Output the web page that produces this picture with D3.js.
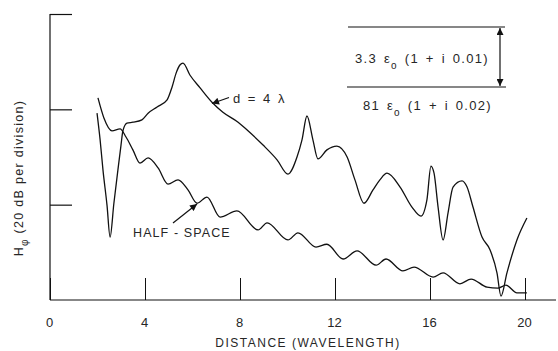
<!DOCTYPE html>
<html>
<head>
<meta charset="utf-8">
<script src="https://cdn.jsdelivr.net/npm/d3@7"></script>
<style>
  body { margin: 0; background: #fff; }
  svg text { font-family: "Liberation Sans", Arial, sans-serif; fill: #262626; }
</style>
</head>
<body>
<svg id="chart" width="558" height="351"></svg>
<script>
// distance in wavelengths, field in dB (relative, 20 dB per division)
var xTickValues = [0, 4, 8, 12, 16, 20]
var yTickValues = [20, 40, 60]

var layerDist = [1.98, 2.11, 2.23, 2.40, 2.53, 2.69, 2.86, 2.99, 3.07, 3.24, 3.49, 3.87, 4.13, 4.51, 4.93, 5.14, 5.31, 5.47, 5.60,
  5.89, 6.32, 6.82, 7.28, 7.92, 8.29, 8.97, 9.56, 10.02, 10.40, 10.61, 10.82, 11.07, 11.28, 11.66, 12.08, 12.51, 12.84, 13.22,
  13.60, 13.89, 14.19, 14.74, 15.24, 15.62, 15.87, 16.04, 16.17, 16.34, 16.55, 16.76, 16.97, 17.35, 17.56, 17.81, 18.19, 18.53,
  18.82, 18.99, 19.24, 19.66, 20.08]
var layerDb = [39.2, 33.6, 27.3, 19.9, 13.2, 20.3, 27.3, 32.5, 35.5, 37.1, 37.3, 37.8, 39.2, 40.5, 42.0, 44.7, 47.6, 49.3, 49.7,
  47.2, 44.5, 41.5, 39.4, 37.3, 35.7, 32.5, 29.4, 26.4, 30.0, 33.6, 38.6, 33.6, 29.6, 31.5, 32.3, 30.0, 25.2, 20.3,
  23.1, 25.2, 26.6, 23.7, 19.5, 17.6, 21.0, 28.1, 26.6, 19.5, 12.6, 18.3, 23.7, 25.0, 23.7, 19.5, 13.2, 10.5,
  5.7, 0.8, 5.7, 12.6, 17.2]

var halfDist = [2.02, 2.27, 2.61, 2.95, 3.20, 3.49, 3.79, 4.13, 4.55, 4.97, 5.39, 5.81, 6.19, 6.61, 7.16, 7.87, 8.76, 9.14,
  10.02, 10.44, 11.20, 11.66, 12.34, 12.93, 13.73, 14.15, 14.86, 15.33, 16.13, 16.55, 17.26, 17.73, 18.40, 18.86, 19.20, 19.66, 20.08]
var halfDb = [42.4, 38.2, 35.5, 35.9, 34.2, 31.5, 28.7, 29.8, 27.7, 24.3, 25.2, 23.1, 20.3, 21.6, 17.4, 18.7, 14.7, 16.2,
  12.6, 14.1, 11.1, 11.7, 8.6, 10.3, 7.3, 8.6, 6.1, 6.9, 4.8, 5.7, 3.4, 4.4, 2.7, 2.5, 3.1, 1.5, 1.5]

var svg = d3.select('#chart')

var x = d3.scaleLinear().domain([0, 20]).range([50, 525])
var y = d3.scaleLinear().domain([0, 60]).range([300, 14])

/** arrow marker */
svg.append('defs').append('marker').attr('id', 'tri')
  .attr('viewBox', '0 0 10 10').attr('refX', 10).attr('refY', 5)
  .attr('markerWidth', 9).attr('markerHeight', 7).attr('markerUnits', 'userSpaceOnUse')
  .attr('orient', 'auto-start-reverse')
  .append('path').attr('d', 'M0,0L10,5L0,10z').attr('fill', '#111')

/** x axis */
var xAxis = svg.append('g').attr('transform', 'translate(0,300)')
  .call(d3.axisBottom(x).tickValues(xTickValues).tickSizeInner(-22).tickSizeOuter(0))
xAxis.select('.domain').remove()
xAxis.selectAll('.tick line').attr('stroke', '#111')
xAxis.selectAll('.tick text').attr('y', 27).attr('dy', 0).attr('x', -1)
  .style('font-size', '13px').style('font-family', '"Liberation Sans", Arial, sans-serif').attr('fill', '#262626')
svg.append('line').attr('x1', 50).attr('x2', 556).attr('y1', 300).attr('y2', 300)
  .attr('stroke', '#111').attr('stroke-width', 1.2)

/** y axis */
var yAxis = svg.append('g').attr('transform', 'translate(50,0)')
  .call(d3.axisRight(y).tickValues(yTickValues).tickSizeInner(22).tickSizeOuter(0).tickFormat(''))
yAxis.select('.domain').attr('stroke', '#111').attr('stroke-width', 1.2).attr('d', 'M0,' + y(0) + 'V' + y(60))
yAxis.selectAll('.tick line').attr('stroke', '#111').attr('stroke-width', 1.2)

/** curves */
var line = d3.line()
  .x(function (d) { return x(d[0]) })
  .y(function (d) { return y(d[1]) })
  .curve(d3.curveMonotoneX)

var layerPts = layerDist.map(function (v, i) { return [v, layerDb[i]] })
var halfPts = halfDist.map(function (v, i) { return [v, halfDb[i]] })

svg.append('path').attr('d', line(layerPts))
  .attr('fill', 'none').attr('stroke', '#111').attr('stroke-width', 1.3)
svg.append('path').attr('d', line(halfPts))
  .attr('fill', 'none').attr('stroke', '#111').attr('stroke-width', 1.3)

/** labels */
svg.append('text').attr('x', 308).attr('y', 347).attr('text-anchor', 'middle')
  .style('font-size', '12px').style('letter-spacing', '1.5px')
  .text('DISTANCE (WAVELENGTH)')

var yl = svg.append('text').attr('transform', 'translate(23,178) rotate(-90)')
  .attr('text-anchor', 'middle').style('font-size', '12.5px').style('letter-spacing', '1.3px')
yl.append('tspan').text('H')
yl.append('tspan').attr('dy', 5).style('font-size', '10px').text('\u03c6')
yl.append('tspan').attr('dy', -5).text('  (20 dB per division)')

/** annotations */
svg.append('text').attr('x', 233).attr('y', 103).style('font-size', '13px')
  .style('letter-spacing', '1px').style('word-spacing', '2px').text('d = 4 \u03bb')
svg.append('line').attr('x1', 229).attr('y1', 97.5).attr('x2', 212).attr('y2', 103.5)
  .attr('stroke', '#111').attr('stroke-width', 1.2).attr('marker-end', 'url(#tri)')

svg.append('text').attr('x', 133).attr('y', 237).style('font-size', '12.5px')
  .style('letter-spacing', '1.1px').text('HALF - SPACE')
svg.append('line').attr('x1', 173).attr('y1', 223).attr('x2', 197).attr('y2', 204)
  .attr('stroke', '#111').attr('stroke-width', 1.2).attr('marker-end', 'url(#tri)')

/** layer box */
svg.append('line').attr('x1', 348).attr('x2', 505).attr('y1', 27).attr('y2', 27).attr('stroke', '#111').attr('stroke-width', 1.2)
svg.append('line').attr('x1', 347).attr('x2', 506).attr('y1', 87).attr('y2', 87).attr('stroke', '#111').attr('stroke-width', 1.2)
svg.append('line').attr('x1', 500).attr('x2', 500).attr('y1', 28).attr('y2', 86)
  .attr('stroke', '#111').attr('stroke-width', 1.2)
  .attr('marker-start', 'url(#tri)').attr('marker-end', 'url(#tri)')

function permittivity (px, py, pre, post) {
  var t = svg.append('text').attr('x', px).attr('y', py).style('font-size', '13px')
    .style('letter-spacing', '1.3px').style('word-spacing', '2px')
  t.append('tspan').text(pre + ' \u03b5')
  t.append('tspan').attr('dy', 6).style('font-size', '10px').text('o')
  t.append('tspan').attr('dy', -6).text(' (1 + i ' + post + ')')
}
permittivity(355, 63, '3.3', '0.01')
permittivity(363, 110, '81', '0.02')
</script>
</body>
</html>
